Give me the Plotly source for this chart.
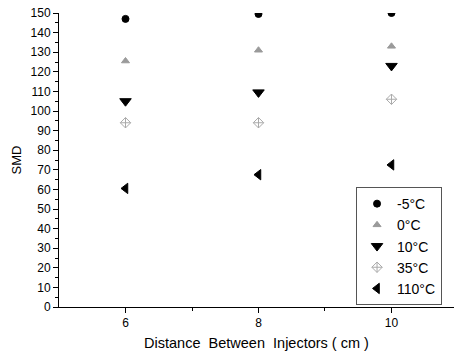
import plotly.graph_objects as go

x_vals = [6, 8, 10]
series_names = ["-5°C", "0°C", "10°C", "35°C", "110°C"]
smd_m5 = [147, 149.5, 150]
smd_0 = [125.5, 131, 133]
smd_10 = [105, 109.5, 123]
smd_35 = [94, 94, 106]
smd_110 = [60.5, 67.5, 72.5]

x_ticks = [6, 8, 10]
y_ticks = list(range(0, 151, 10))

styles = [
    dict(symbol="circle", color="black", size=7),
    dict(symbol="triangle-up", color="#9a9a9a", size=7),
    dict(symbol="triangle-down", color="black", size=10),
    dict(symbol="diamond-cross-open", color="#aaaaaa", size=8),
    dict(symbol="triangle-left", color="black", size=9),
]

fig = go.Figure()
for name, vals, st in zip(series_names, [smd_m5, smd_0, smd_10, smd_35, smd_110], styles):
    fig.add_trace(go.Scatter(
        x=x_vals, y=vals, mode="markers", name=name,
        marker=dict(symbol=st["symbol"], color=st["color"], size=st["size"],
                    line=dict(width=1, color=st["color"])),
    ))

fig.update_layout(
    width=454, height=357,
    margin=dict(l=59, r=0, t=13, b=50, pad=0, autoexpand=False),
    paper_bgcolor="white", plot_bgcolor="white",
    font=dict(family="Liberation Sans, Arial, sans-serif", color="black", size=12),
    showlegend=True,
    legend=dict(
        x=0.752, y=0.408, xanchor="left", yanchor="top",
        bgcolor="white", bordercolor="#555555", borderwidth=1,
        font=dict(size=14), itemwidth=30, tracegroupgap=0,
    ),
    xaxis=dict(
        range=[5, 10.94], tickvals=x_ticks, ticks="outside", ticklen=5,
        tickcolor="black", showline=True, linecolor="black", linewidth=1,
        showgrid=False, zeroline=False, automargin=False,
        minor=dict(tickvals=[7, 9], ticks="outside", ticklen=3, tickcolor="black"),
        title=dict(text="Distance  Between  Injectors ( cm )", font=dict(size=14.5), standoff=8),
    ),
    yaxis=dict(
        range=[0, 150], tickvals=y_ticks, ticks="outside", ticklen=5,
        tickcolor="black", showline=True, linecolor="black", linewidth=1,
        showgrid=False, zeroline=False, automargin=False,
        minor=dict(dtick=5, ticks="outside", ticklen=3, tickcolor="black"),
        title=dict(text="SMD", font=dict(size=13), standoff=6),
    ),
)

fig.write_html("out.html", config={"displayModeBar": False},
               post_script="document.body.style.margin='0';")
